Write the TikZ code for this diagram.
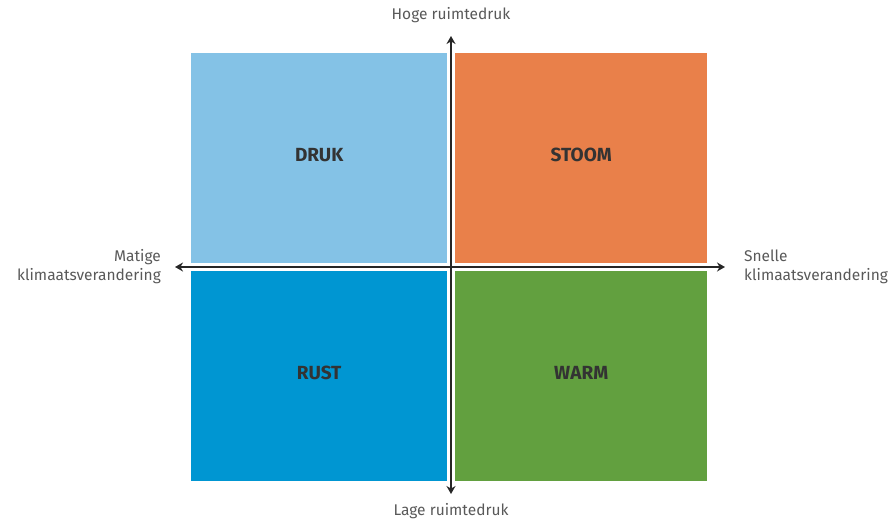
\documentclass[tikz,border=0pt]{standalone}
\usepackage{fontspec}
\setmainfont{Fira Sans}
\usetikzlibrary{arrows.meta,positioning}

\definecolor{drukblue}{RGB}{132,194,230}
\definecolor{stoomorange}{RGB}{233,128,74}
\definecolor{rustblue}{RGB}{0,150,210}
\definecolor{warmgreen}{RGB}{98,160,63}

\begin{document}
\begin{tikzpicture}[x=1pt,y=-1pt,>={Stealth[length=8pt,width=9pt]}]
			\tikzset{quad/.style={rectangle,inner sep=0pt,minimum height=210pt,font=\fontsize{19}{22}\selectfont\bfseries,text=black!80},
        axis/.style={draw,line width=1.8pt,black!85},
        lbl/.style={font=\fontsize{15.5}{19}\selectfont,text=black!65,inner sep=0pt}
        }
			\useasboundingbox (0,0) rectangle (894,523);

			\node [quad,fill=drukblue,minimum width=256pt,anchor=north west] (druk) at (191,53) {\raisebox{6pt}{DRUK}};
			\node [quad,fill=stoomorange,minimum width=252pt,anchor=north west] (stoom) at (455,53) {\raisebox{6pt}{STOOM}};
			\node [quad,fill=rustblue,minimum width=256pt,anchor=north west] (rust) at (191,271) {\raisebox{6pt}{RUST}};
			\node [quad,fill=warmgreen,minimum width=252pt,anchor=north west] (warm) at (455,271) {\raisebox{6pt}{WARM}};

			\coordinate (top) at (451,36);
			\coordinate (bottom) at (451,494);
			\coordinate (left) at (175,267);
			\coordinate (right) at (725,267);

			\path[axis,<->] (top) -- (bottom);
			\path[axis,<->] (left) -- (right);

			\node [lbl,above=13pt of top] (hoge) {Hoge ruimtedruk};
			\node [lbl,below=9pt of bottom] (lage) {Lage ruimtedruk};
			\node [lbl,left=14pt of left,align=right] (matige) {Matige\\klimaatsverandering};
			\node [lbl,right=19pt of right,align=left] (snelle) {Snelle\\klimaatsverandering};

		\end{tikzpicture}
\end{document}
